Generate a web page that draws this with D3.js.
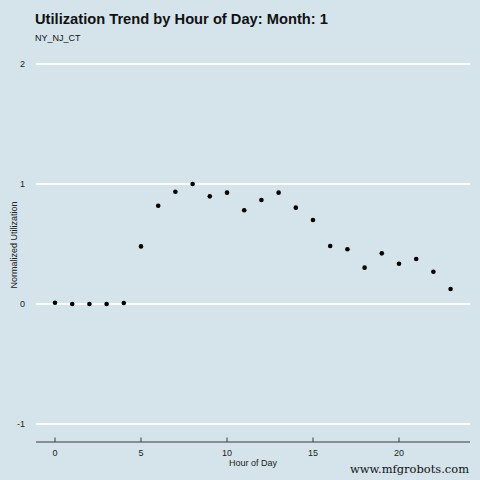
<!DOCTYPE html>
<html><head><meta charset="utf-8">
<script src="https://cdn.jsdelivr.net/npm/d3@7"></script>
<style>body{margin:0;background:#d5e4eb;}svg{display:block;}</style>
</head><body>
<script>
const hours = [0,1,2,3,4,5,6,7,8,9,10,11,12,13,14,15,16,17,18,19,20,21,22,23];
const utilization = [0.011,0.0,0.0,0.0,0.008,0.48,0.819,0.936,1.0,0.897,0.928,0.781,0.867,0.928,0.803,0.70,0.483,0.456,0.303,0.422,0.336,0.375,0.269,0.125];
const xTicks = [0,5,10,15,20];
const yTicks = [-1,0,1,2];
const titleText = "Utilization Trend by Hour of Day: Month: 1";
const subtitleText = "NY_NJ_CT";
const xLabel = "Hour of Day";
const yLabel = "Normalized Utilization";
const watermark = "www.mfgrobots.com";

const W = 480, H = 480;
const svg = d3.select("body").append("svg").attr("width", W).attr("height", H)
  .style("font-family", "'Liberation Sans', Arial, sans-serif");
svg.append("rect").attr("width", W).attr("height", H).attr("fill", "#d5e4eb");

const x = d3.scaleLinear().domain([0, 5]).range([55, 141]);
const y = d3.scaleLinear().domain([0, 1]).range([304, 184]);
const left = 36, right = 470, axisY = 442;

// gridlines
svg.append("g").selectAll("line").data(yTicks).join("line")
  .attr("x1", left).attr("x2", right)
  .attr("y1", d => y(d)).attr("y2", d => y(d))
  .attr("stroke", "#ffffff").attr("stroke-width", 2);

// y tick labels
svg.append("g").selectAll("text").data(yTicks).join("text")
  .attr("x", 25).attr("y", d => y(d)).attr("dy", "0.35em")
  .attr("text-anchor", "end").attr("font-size", 9).attr("fill", "#222")
  .text(d => d);

// x axis line
svg.append("line").attr("x1", left).attr("x2", right).attr("y1", axisY).attr("y2", axisY)
  .attr("stroke", "#3a3a3a").attr("stroke-width", 1);
svg.append("g").selectAll("line").data(xTicks).join("line")
  .attr("x1", d => x(d)).attr("x2", d => x(d))
  .attr("y1", axisY - 4.5).attr("y2", axisY)
  .attr("stroke", "#3a3a3a").attr("stroke-width", 1);
svg.append("g").selectAll("text").data(xTicks).join("text")
  .attr("x", d => x(d)).attr("y", 456)
  .attr("text-anchor", "middle").attr("font-size", 9).attr("fill", "#222")
  .text(d => d);

// axis titles
svg.append("text").attr("x", x(10) + 26).attr("y", 466).attr("text-anchor", "middle")
  .attr("font-size", 9).attr("fill", "#222").text(xLabel);
svg.append("text").attr("transform", "translate(17,245) rotate(-90)")
  .attr("text-anchor", "middle").attr("font-size", 9).attr("fill", "#222").text(yLabel);

// points
svg.append("g").selectAll("circle").data(hours).join("circle")
  .attr("cx", (d) => x(d)).attr("cy", (d, i) => y(utilization[i]))
  .attr("r", 2.3).attr("fill", "#000");

// title
svg.append("text").attr("x", 35).attr("y", 24).attr("font-size", 14.7)
  .attr("font-weight", "bold").attr("fill", "#111").text(titleText);
svg.append("text").attr("x", 35).attr("y", 41).attr("font-size", 9)
  .attr("fill", "#111").text(subtitleText);

// watermark
svg.append("text").attr("x", 350).attr("y", 473)
  .attr("font-size", 11).attr("font-family", "'DejaVu Serif', serif")
  .attr("textLength", 119).attr("lengthAdjust", "spacingAndGlyphs")
  .attr("fill", "#111").text(watermark);
</script>
</body></html>
